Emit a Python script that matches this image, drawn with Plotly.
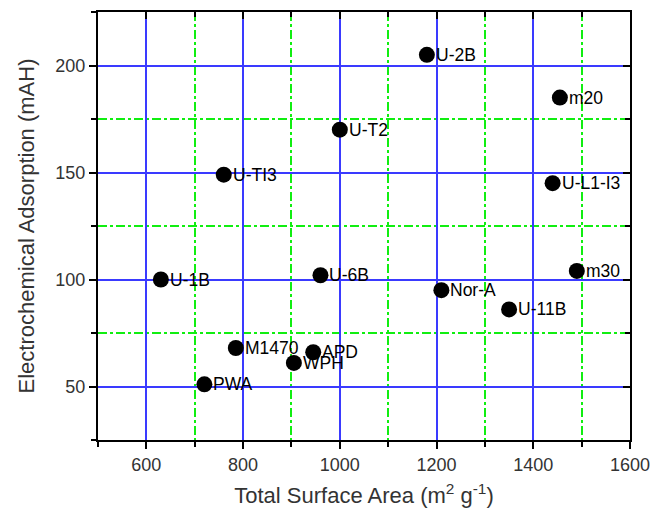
import plotly.graph_objects as go

names = ["U-2B", "m20", "U-T2", "U-TI3", "U-L1-I3", "U-1B", "U-6B", "m30",
         "Nor-A", "U-11B", "M1470", "APD", "WPH", "PWA"]
surface_area = [1180, 1455, 1000, 760, 1440, 630, 960, 1490, 1210, 1350, 785, 945, 905, 720]
adsorption = [205, 185, 170, 149, 145, 100, 102, 104, 95, 86, 68, 66, 61, 51]

x_range = [500, 1600]
y_range = [25, 225]

FONT = "Liberation Sans, Arial, sans-serif"
BLUE = "#3a3aff"
GREEN = "#11ee11"

fig = go.Figure()
fig.add_trace(go.Scatter(
    x=surface_area, y=adsorption,
    mode="markers",
    marker=dict(size=16, color="black"),
    cliponaxis=False, showlegend=False,
))
# invisible trace to activate mirror (top/right) axes
fig.add_trace(go.Scatter(
    x=surface_area, y=adsorption, xaxis="x2", yaxis="y2",
    mode="markers", marker=dict(opacity=0), hoverinfo="skip", showlegend=False,
))

for name, xv, yv in zip(names, surface_area, adsorption):
    fig.add_annotation(x=xv, y=yv, text=name, showarrow=False,
                       xanchor="left", yanchor="middle", xshift=7,
                       font=dict(family=FONT, size=17.5, color="black"))

common_line = dict(showline=True, linecolor="black", linewidth=2, zeroline=False)
minor_grid = dict(gridcolor=GREEN, gridwidth=1.6, griddash="dashdot")

fig.update_layout(
    width=651, height=515,
    margin=dict(l=98, r=21, t=12, b=75, autoexpand=False),
    paper_bgcolor="white", plot_bgcolor="white",
    font=dict(family=FONT, size=18, color="#333333"),
    xaxis=dict(
        range=x_range, dtick=200, tick0=0, **common_line, automargin=False,
        showgrid=True, gridcolor=BLUE, gridwidth=1.6,
        ticks="outside", ticklen=7, tickwidth=2, tickcolor="black",
        minor=dict(dtick=100, tick0=0, showgrid=True, **minor_grid,
                   ticks="outside", ticklen=5, tickwidth=2, tickcolor="black"),
        tickfont=dict(size=18, color="#333333"),
        title=dict(text="Total Surface Area (m<sup>2</sup> g<sup>-1</sup>)",
                   font=dict(size=22, color="#333333"), standoff=14),
    ),
    yaxis=dict(
        range=y_range, dtick=50, tick0=0, **common_line, automargin=False,
        showgrid=True, gridcolor=BLUE, gridwidth=1.6,
        ticks="outside", ticklen=7, tickwidth=2, tickcolor="black",
        minor=dict(dtick=25, tick0=0, showgrid=True, **minor_grid,
                   ticks="outside", ticklen=5, tickwidth=2, tickcolor="black"),
        tickfont=dict(size=18, color="#333333"),
        title=dict(text="Electrochemical Adsorption (mAH)",
                   font=dict(size=22, color="#333333"), standoff=15),
    ),
    xaxis2=dict(
        range=x_range, dtick=200, tick0=0, overlaying="x", side="top", anchor="y",
        **common_line, automargin=False, showgrid=False, showticklabels=False,
        ticks="inside", ticklen=7, tickwidth=2, tickcolor="black",
        minor=dict(dtick=100, tick0=0, showgrid=False, **minor_grid,
                   ticks="inside", ticklen=5, tickwidth=2, tickcolor="black"),
    ),
    yaxis2=dict(
        range=y_range, dtick=50, tick0=0, overlaying="y", side="right", anchor="x",
        **common_line, automargin=False, showgrid=False, showticklabels=False,
        ticks="inside", ticklen=7, tickwidth=2, tickcolor="black",
        minor=dict(dtick=25, tick0=0, showgrid=False, **minor_grid,
                   ticks="inside", ticklen=5, tickwidth=2, tickcolor="black"),
    ),
)

fig.write_html("out.html")
